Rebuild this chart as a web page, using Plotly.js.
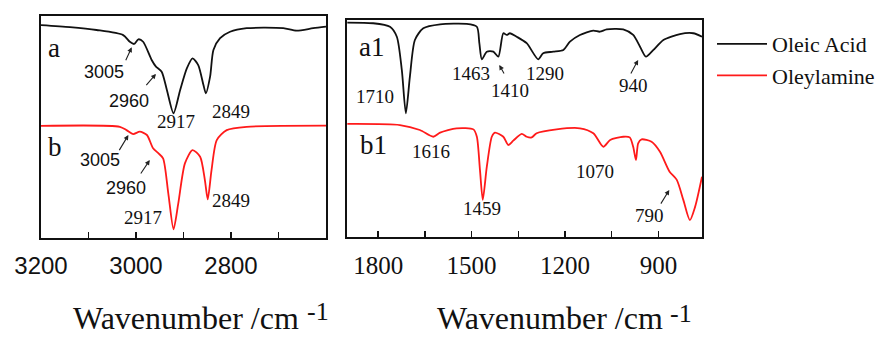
<!DOCTYPE html>
<html>
<head>
<meta charset="utf-8">
<script src="https://cdn.plot.ly/plotly-3.0.1.min.js"></script>
<style>html,body{margin:0;padding:0;background:#fff;}#chart{width:885px;height:338px;}</style>
</head>
<body>
<div id="chart"></div>
<script>
// ---- Data (wavenumber in cm^-1, relative transmittance, offset per curve) ----
const leftOleicWn   = [3200,3139,3083,3027,3013,3004,2995,2985,2967,2958,2946,2935,2921,2907,2893,2881,2869,2858,2853,2844,2837,2823,2802,2767,2690,2662,2627,2600];
const leftOleicT    = [95.9,95.0,93.7,91.4,88.4,87.4,89.5,88.4,80.2,77.2,74.9,66.7,56.2,66.7,76.4,80.9,77.9,68.9,65.2,72.7,84.7,90.0,92.9,94.5,94.5,93.4,94.5,95.2];
const leftAmineWn   = [3200,3034,3020,3006,2992,2977,2964,2953,2943,2932,2921,2911,2897,2881,2865,2855,2849,2841,2830,2809,2767,2600];
const leftAmineT    = [50.5,50.1,48.6,46.8,47.9,46.4,40.4,38.2,35.9,20.1,3.9,15.6,33.6,39.6,36.6,26.1,17.4,30.6,44.1,48.6,50.1,50.6];
const rightOleicWn  = [1899,1816,1762,1740,1724,1711,1698,1682,1655,1601,1516,1483,1475,1467,1451,1430,1414,1398,1387,1377,1355,1323,1286,1270,1238,1205,1184,1152,1109,1088,1066,1013,981,959,940,916,884,831,788,760];
const rightOleicT   = [98.8,98.5,96.9,92.3,77.0,57.0,73.9,90.8,96.2,98.0,98.2,96.9,89.3,81.9,85.4,85.4,83.1,93.9,93.1,93.9,92.3,89.3,81.9,84.7,85.4,86.2,90.0,93.1,95.1,94.6,95.7,95.7,93.1,87.7,83.1,86.2,90.8,93.5,93.9,92.3];
const rightAmineWn  = [1899,1730,1666,1623,1601,1548,1494,1483,1473,1464,1451,1435,1425,1398,1382,1366,1339,1323,1307,1291,1227,1152,1109,1077,1055,1013,992,981,972,965,954,922,895,864,841,820,799,782,760];
const rightAmineT   = [52.1,51.6,49.3,46.2,48.1,50.1,49.6,46.2,30.9,17.1,32.4,46.2,48.1,46.2,42.4,44.4,47.5,46.2,45.9,47.8,49.6,50.1,47.8,41.6,44.7,46.2,45.9,41.6,35.5,43.2,45.0,43.9,39.3,30.1,26.3,17.1,7.8,14.0,27.8];
const seriesNames   = ['Oleic Acid','Oleylamine'];
const leftTickVals  = [3200,3100,3000,2900,2800,2700];
const leftTickText  = ['3200','','3000','','2800',''];
const rightTickVals = [1800,1650,1500,1350,1200,1050,900];
const rightTickText = ['1800','','1500','','1200','','900'];
// peak labels: [text, wavenumber, T]
const leftLabels  = [['3005',3067,74.9],['2960',3015,61.8],['3005',3076,35.1],['2960',3021,22.4]];
const leftLabelsSerif = [['2917',2916,52.7],['2849',2800,56.8],['2917',2985,9.3],['2849',2799,17.1]];
const rightLabels = [['1710',1810,64.7],['1463',1503,75.4],['1410',1377,67.7],['1290',1264,75.4],['940',981,69.6],['1616',1631,39.3],['1459',1467,13.2],['1070',1104,30.1],['790',929,9.7]];
// arrows: [tailWn, tailT, headWn, headT]
const leftArrows  = [[3023,79.4,3009,85.9],[2981,68.2,2958,73.9],[3037,38.9,3016,46.4],[2992,28.4,2971,35.1]];
const rightArrows = [[1393,74.7,1411,79.3],[991,74.7,965,81.6],[895,14.7,865,21.7]];
const panelLetters = [['a','x','y',3173,85.8],['b','x','y',3171,41.1],['a1','x2','y2',1821,87.7],['b1','x2','y2',1816,42.4]];

const BLACK = '#111111', RED = '#ff1a1a';
const SERIF = 'Liberation Serif, Times New Roman, serif';
const SANS = 'Liberation Sans, Arial, sans-serif';

function tr(x, y, name, color, xa, ya, show) {
  return {x: x, y: y, name: name, type: 'scatter', mode: 'lines', xaxis: xa, yaxis: ya,
    showlegend: show, line: {color: color, width: 1.8, shape: 'spline', smoothing: 0.7}};
}
const data = [
  tr(leftOleicWn, leftOleicT, seriesNames[0], BLACK, 'x', 'y', true),
  tr(leftAmineWn, leftAmineT, seriesNames[1], RED, 'x', 'y', true),
  tr(rightOleicWn, rightOleicT, seriesNames[0], BLACK, 'x2', 'y2', false),
  tr(rightAmineWn, rightAmineT, seriesNames[1], RED, 'x2', 'y2', false)
];

const annotations = [];
leftLabels.forEach(l => annotations.push({text: l[0], x: l[1], y: l[2], xref: 'x', yref: 'y', showarrow: false, font: {family: SANS, size: 18, color: '#111'}}));
leftLabelsSerif.forEach(l => annotations.push({text: l[0], x: l[1], y: l[2], xref: 'x', yref: 'y', showarrow: false, font: {family: SERIF, size: 19, color: '#111'}}));
rightLabels.forEach(l => annotations.push({text: l[0], x: l[1], y: l[2], xref: 'x2', yref: 'y2', showarrow: false, font: {family: SERIF, size: 19, color: '#111'}}));
leftArrows.forEach(a => annotations.push({text: '', x: a[2], y: a[3], ax: a[0], ay: a[1], xref: 'x', yref: 'y', axref: 'x', ayref: 'y', showarrow: true, arrowhead: 2, arrowsize: 0.9, arrowwidth: 1.1, arrowcolor: '#222'}));
rightArrows.forEach(a => annotations.push({text: '', x: a[2], y: a[3], ax: a[0], ay: a[1], xref: 'x2', yref: 'y2', axref: 'x2', ayref: 'y2', showarrow: true, arrowhead: 2, arrowsize: 0.9, arrowwidth: 1.1, arrowcolor: '#222'}));
panelLetters.forEach(p => annotations.push({text: p[0], x: p[3], y: p[4], xref: p[1], yref: p[2], showarrow: false, font: {family: SERIF, size: 27, color: '#111'}}));
// axis titles
annotations.push({text: 'Wavenumber /cm', xref: 'paper', yref: 'paper', x: 186/885, y: 0, xanchor: 'center', yanchor: 'bottom', showarrow: false, font: {family: SERIF, size: 32, color: '#111'}});
annotations.push({text: '-1', xref: 'paper', yref: 'paper', x: 318/885, y: 1 - 311/338, xanchor: 'center', yanchor: 'middle', showarrow: false, font: {family: SERIF, size: 26, color: '#111'}});
annotations.push({text: 'Wavenumber /cm', xref: 'paper', yref: 'paper', x: 550/885, y: 0, xanchor: 'center', yanchor: 'bottom', showarrow: false, font: {family: SERIF, size: 32, color: '#111'}});
annotations.push({text: '-1', xref: 'paper', yref: 'paper', x: 681/885, y: 1 - 313/338, xanchor: 'center', yanchor: 'middle', showarrow: false, font: {family: SERIF, size: 26, color: '#111'}});

function xax(domain, range, vals, text, font) {
  return {domain: domain, range: range, tickmode: 'array', tickvals: vals, ticktext: text,
    ticks: 'inside', ticklen: 6, tickwidth: 1.5, tickcolor: '#111', showline: true, mirror: true,
    linecolor: '#111', linewidth: 2, showgrid: false, zeroline: false, ticklabelstandoff: 5,
    tickfont: font, fixedrange: true};
}
function yax(domain, anchor) {
  return {domain: domain, range: [0, 100], anchor: anchor, showticklabels: false, ticks: '',
    showline: true, mirror: true, linecolor: '#111', linewidth: 2, showgrid: false, zeroline: false, fixedrange: true};
}
const layout = {
  width: 885, height: 338, margin: {l: 0, r: 0, t: 0, b: 0},
  paper_bgcolor: '#fff', plot_bgcolor: '#fff',
  xaxis: Object.assign(xax([41/885, 326/885], [3200, 2600], leftTickVals, leftTickText, {family: SANS, size: 24, color: '#111'}), {anchor: 'y'}),
  yaxis: yax([100/338, 322/338], 'x'),
  xaxis2: Object.assign(xax([347/885, 702/885], [1900, 760], rightTickVals, rightTickText, {family: SERIF, size: 25, color: '#111'}), {anchor: 'y2'}),
  yaxis2: yax([101/338, 318/338], 'x2'),
  showlegend: true,
  legend: {x: 712/885, y: 1 - 23/338, xanchor: 'left', yanchor: 'top', bgcolor: 'rgba(0,0,0,0)', borderwidth: 0,
    font: {family: SERIF, size: 22, color: '#111'}, itemwidth: 50, tracegroupgap: 0},
  annotations: annotations
};
Plotly.newPlot('chart', data, layout, {staticPlot: true, displayModeBar: false});
</script>
</body>
</html>
